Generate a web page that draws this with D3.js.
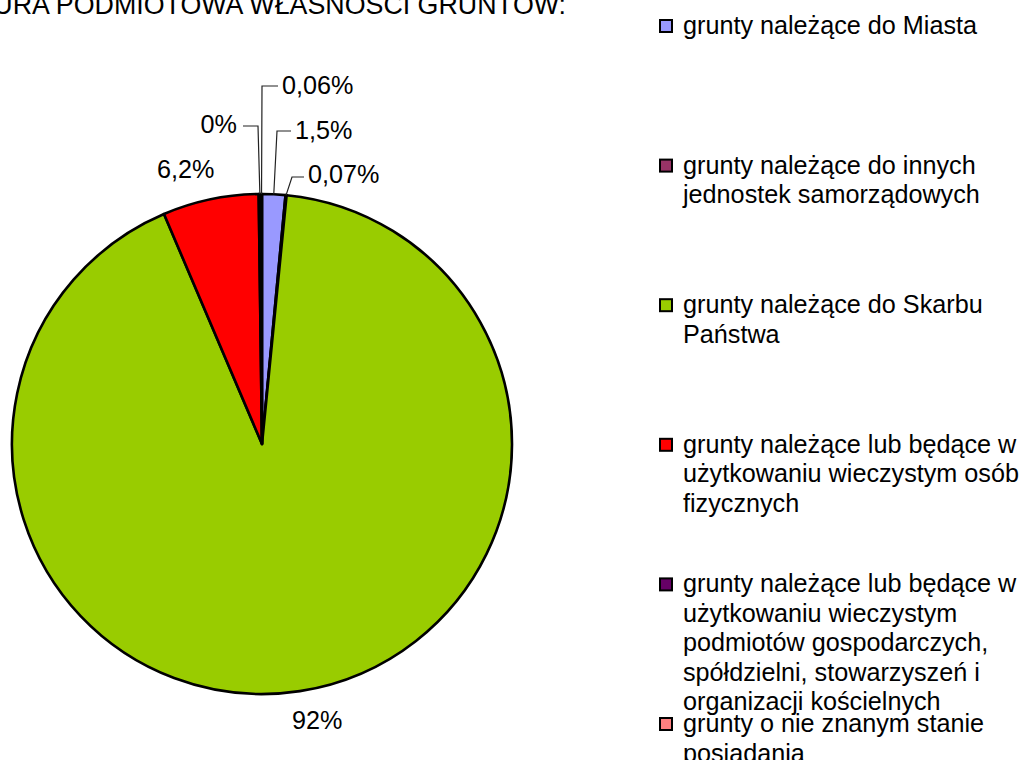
<!DOCTYPE html>
<html lang="pl">
<head>
<meta charset="UTF-8">
<title>Struktura podmiotowa własności gruntów</title>
<script src="https://d3js.org/d3.v7.min.js"></script>
<style>
  body { margin: 0; background: #fff; }
  svg text { font-family: "Liberation Sans", Arial, sans-serif; fill: #000; }
</style>
</head>
<body>
<svg id="main" width="1021" height="760"></svg>
<script>
// data
const categories = [
  "grunty należące do Miasta",
  "grunty należące do innych jednostek samorządowych",
  "grunty należące do Skarbu Państwa",
  "grunty należące lub będące w użytkowaniu wieczystym osób fizycznych",
  "grunty należące lub będące w użytkowaniu wieczystym podmiotów gospodarczych, spółdzielni, stowarzyszeń i organizacji kościelnych",
  "grunty o nie znanym stanie posiadania"
];
const legendLines = [
  ["grunty należące do Miasta"],
  ["grunty należące do innych", "jednostek samorządowych"],
  ["grunty należące do Skarbu", "Państwa"],
  ["grunty należące lub będące w", "użytkowaniu wieczystym osób", "fizycznych"],
  ["grunty należące lub będące w", "użytkowaniu wieczystym", "podmiotów gospodarczych,", "spółdzielni, stowarzyszeń i", "organizacji kościelnych"],
  ["grunty o nie znanym stanie", "posiadania"]
];
const shares = [1.5, 0.07, 92, 6.2, 0.15, 0.06];
const shareLabels = ["1,5%", "0,07%", "92%", "6,2%", "0%", "0,06%"];
const colors = ["#9999FF", "#993366", "#99CC00", "#FF0000", "#660066", "#FF8080"];

// layout of the labels (baseline position, leader elbow)
const labelLayout = [
  { x: 295, y: 139, lineY: 131, elbowX: 277 },
  { x: 308, y: 183, lineY: 177, elbowX: 292 },
  { x: 292, y: 729 },
  { x: 157, y: 178 },
  { x: 237, y: 133, anchor: "end", lineY: 126, elbowX: 258 },
  { x: 282, y: 94, lineY: 86, elbowX: 262 }
];

const svg = d3.select("#main");
const cx = 262, cy = 444, r = 250;
const fs = 25.2;

svg.append("text")
  .attr("x", 566).attr("y", 14)
  .attr("text-anchor", "end")
  .style("font-size", "26.8px")
  .text("STRUKTURA PODMIOTOWA WŁASNOŚCI GRUNTÓW:");

const pie = d3.pie().sort(null).value(d => d);
const arcs = pie(shares);
const arc = d3.arc().innerRadius(0).outerRadius(r);

const g = svg.append("g").attr("transform", `translate(${cx},${cy})`);
g.selectAll("path.slice")
  .data(arcs)
  .join("path")
  .attr("class", "slice")
  .attr("d", arc)
  .attr("fill", (d, i) => colors[i])
  .attr("stroke", "#000")
  .attr("stroke-width", 2.6)
  .attr("stroke-linejoin", "round");

// leader lines
arcs.forEach((d, i) => {
  const L = labelLayout[i];
  if (L.elbowX === undefined) return;
  const a = (d.startAngle + d.endAngle) / 2;
  const px = cx + Math.sin(a) * r;
  const py = cy - Math.cos(a) * r;
  const tx = L.anchor === "end" ? L.x + 6 : L.x - 4;
  svg.append("path")
    .attr("d", d3.line()([[tx, L.lineY], [L.elbowX, L.lineY], [px, py]]))
    .attr("fill", "none")
    .attr("stroke", "#222")
    .attr("stroke-width", 1.2);
});

svg.selectAll("text.lbl")
  .data(shareLabels)
  .join("text")
  .attr("class", "lbl")
  .attr("x", (d, i) => labelLayout[i].x)
  .attr("y", (d, i) => labelLayout[i].y)
  .attr("text-anchor", (d, i) => labelLayout[i].anchor || "start")
  .style("font-size", fs + "px")
  .text(d => d);

// legend
const legendY = d3.scaleLinear().domain([0, 5]).range([34, 732]);
const leg = svg.selectAll("g.leg")
  .data(categories)
  .join("g")
  .attr("class", "leg")
  .attr("transform", (d, i) => `translate(0,${legendY(i)})`);

leg.append("rect")
  .attr("x", 660).attr("y", -14)
  .attr("width", 12).attr("height", 12)
  .attr("fill", (d, i) => colors[i])
  .attr("stroke", "#000")
  .attr("stroke-width", 2);

leg.each(function(d, i) {
  d3.select(this).selectAll("text")
    .data(legendLines[i])
    .join("text")
    .attr("x", 683)
    .attr("y", (t, j) => j * 29.5)
    .style("font-size", fs + "px")
    .text(t => t);
});
</script>
</body>
</html>
